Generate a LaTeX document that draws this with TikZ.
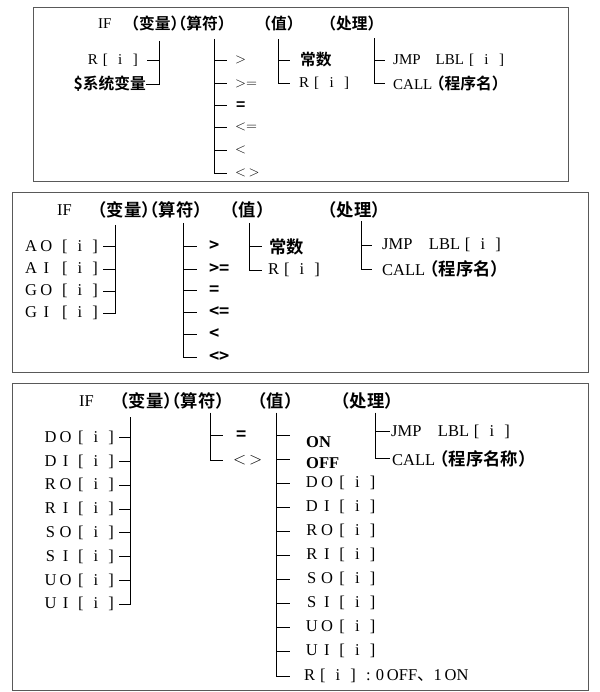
\documentclass[tikz,border=0pt]{standalone}
\usepackage{fontspec}
\setmainfont{Liberation Serif}
\newfontfamily\cjk{Noto Sans CJK SC Bold}[Scale=1.05, RawFeature=+halt]
\newfontfamily\cjkr{Noto Sans CJK SC}
\usetikzlibrary{positioning}

\def\fwd{1em}
\newcommand\fwbox[1]{\makebox[\fwd]{#1}}
\newcommand\idx{\fwbox{[}\fwbox{i}\fwbox{]}}
\newcommand\reg[2]{\fwbox{#1}\fwbox{#2}\idx}

\begin{document}
\begin{tikzpicture}[x=1pt, y=-1pt,
    frame/.style={draw=black!65, line width=1pt},
    bus/.style={line width=0.9pt},
    hdr/.style={anchor=west, inner sep=0pt, font=\cjk},
    itm/.style={anchor=west, inner sep=0pt},
    var/.style={anchor=east, inner sep=0pt}
]
\useasboundingbox (0,0) rectangle (599,692);

% first table
\begin{scope}
\fontsize{15}{18}\selectfont
\draw[frame] (33,8) rectangle (568,182);
\node[itm] (ifA) at (98,24) {IF};
\node[hdr] (varA) at (131,24) {（变量）（算符）};
\node[hdr] (valA) at (263,24) {（值）};
\node[hdr] (actA) at (328,24) {（处理）};

\node[var] (rA) at (143,60) {R\idx};
\node[var, font=\cjk] (sysA) at (146,84) {\$系统变量};
\coordinate (vbA) at (159,41);
\draw[bus] (vbA) |- (sysA.east);
\draw[bus] ([xshift=4pt]rA.east) -- (vbA |- rA.east);

\node[itm] (gtA) at (235,60) {$>$};
\node[itm] (geA) at (235,83.5) {$>=$};
\node[itm, font=\cjk] (eqA) at (236,105.7) {=};
\node[itm] (leA) at (235,127.4) {$<=$};
\node[itm] (ltA) at (235,150) {$<$};
\node[itm] (neA) at (235,173) {$<\,>$};
\coordinate (obA) at (214.5,39);
\draw[bus] (obA) |- ([xshift=-8.5pt]neA.west);
\draw[bus] (obA |- gtA.west) -- ([xshift=-8.5pt]gtA.west);
\draw[bus] (obA |- geA.west) -- ([xshift=-8.5pt]geA.west);
\draw[bus] (obA |- eqA.west) -- ([xshift=-9.5pt]eqA.west);
\draw[bus] (obA |- leA.west) -- ([xshift=-8.5pt]leA.west);
\draw[bus] (obA |- ltA.west) -- ([xshift=-8.5pt]ltA.west);

\node[itm, font=\cjk] (cstA) at (300,60) {常数};
\node[itm] (rvA) at (299,83.5) {R\idx};
\coordinate (wbA) at (278,39.5);
\draw[bus] (wbA) |- ([xshift=-9pt]rvA.west);
\draw[bus] (wbA |- cstA.west) -- ([xshift=-10pt]cstA.west);

\node[itm] (jmpA) at (393,60) {JMP\hspace{1em}LBL\idx};
\node[itm] (callA) at (393,83.5) {CALL\hspace{0.3em}{\cjk （程序名）}};
\coordinate (pbA) at (374,38.5);
\draw[bus] (pbA) |- ([xshift=-8.5pt]callA.west);
\draw[bus] (pbA |- jmpA.west) -- ([xshift=-8.5pt]jmpA.west);
\end{scope}

% second table
\begin{scope}
\fontsize{16.5}{20}\selectfont
\def\fwd{0.92em}
\draw[frame] (12,193) rectangle (588,372);
\node[itm] (ifB) at (57,210) {IF};
\node[hdr] (varB) at (98,210) {（变量）（算符）};
\node[hdr] (valB) at (230,210) {（值）};
\node[hdr] (actB) at (328,210) {（处理）};

\node[var] (aoB) at (103,246.5) {\fwbox{A}\fwbox{O}\hspace{0.2em}\idx};
\node[var] (aiB) at (103,269) {\fwbox{A}\fwbox{I}\hspace{0.2em}\idx};
\node[var] (goB) at (103,291) {\fwbox{G}\fwbox{O}\hspace{0.2em}\idx};
\node[var] (giB) at (103,313) {\fwbox{G}\fwbox{I}\hspace{0.2em}\idx};
\coordinate (vbB) at (115,225);
\draw[bus] (vbB) |- (giB.east);
\draw[bus] (aoB.east) -- (vbB |- aoB.east);
\draw[bus] (aiB.east) -- (vbB |- aiB.east);
\draw[bus] (goB.east) -- (vbB |- goB.east);

\node[itm, font=\cjk] (gtB) at (209,246.5) {>};
\node[itm, font=\cjk] (geB) at (209,269) {>=};
\node[itm, font=\cjk] (eqB) at (209,290.5) {=};
\node[itm, font=\cjk] (leB) at (209,312.4) {<=};
\node[itm, font=\cjk] (ltB) at (209,334) {<};
\node[itm, font=\cjk] (neB) at (209,357) {<>};
\coordinate (obB) at (183.6,223);
\draw[bus] (obB) |- ([xshift=-12.3pt]neB.west);
\draw[bus] (obB |- gtB.west) -- ([xshift=-12.3pt]gtB.west);
\draw[bus] (obB |- geB.west) -- ([xshift=-12.3pt]geB.west);
\draw[bus] (obB |- eqB.west) -- ([xshift=-12.3pt]eqB.west);
\draw[bus] (obB |- leB.west) -- ([xshift=-12.3pt]leB.west);
\draw[bus] (obB |- ltB.west) -- ([xshift=-12.3pt]ltB.west);

\node[itm, font=\cjk] (cstB) at (269,246.5) {常数};
\node[itm] (rvB) at (268,270) {R\idx};
\coordinate (wbB) at (249,223);
\draw[bus] (wbB) |- ([xshift=-6pt]rvB.west);
\draw[bus] (wbB |- cstB.west) -- ([xshift=-7pt]cstB.west);

\node[itm] (jmpB) at (382,245) {JMP\hspace{1em}LBL\idx};
\node[itm] (callB) at (382,269) {CALL\hspace{0.3em}{\cjk （程序名）}};
\coordinate (pbB) at (361,221);
\draw[bus] (pbB) |- ([xshift=-10pt]callB.west);
\draw[bus] (pbB |- jmpB.west) -- ([xshift=-10pt]jmpB.west);
\end{scope}

% third table
\begin{scope}
\fontsize{16.5}{20}\selectfont
\def\fwd{0.92em}
\draw[frame] (12,383) rectangle (588,690);
\node[itm] (ifC) at (79,401) {IF};
\node[hdr] (varC) at (120,401) {（变量）（算符）};
\node[hdr] (valC) at (258,401) {（值）};
\node[hdr] (actC) at (341,401) {（处理）};

\node[var] (doC) at (119,437.6) {\reg DO};
\node[var] (diC) at (119,461.4) {\reg DI};
\node[var] (roC) at (119,485.2) {\reg RO};
\node[var] (riC) at (119,509) {\reg RI};
\node[var] (soC) at (119,532.8) {\reg SO};
\node[var] (siC) at (119,556.6) {\reg SI};
\node[var] (uoC) at (119,580.4) {\reg UO};
\node[var] (uiC) at (119,604.2) {\reg UI};
\coordinate (vbC) at (130.5,417);
\draw[bus] (vbC) |- (uiC.east);
\draw[bus] (doC.east) -- (vbC |- doC.east);
\draw[bus] (diC.east) -- (vbC |- diC.east);
\draw[bus] (roC.east) -- (vbC |- roC.east);
\draw[bus] (riC.east) -- (vbC |- riC.east);
\draw[bus] (soC.east) -- (vbC |- soC.east);
\draw[bus] (siC.east) -- (vbC |- siC.east);
\draw[bus] (uoC.east) -- (vbC |- uoC.east);

\node[itm, font=\cjk] (eqC) at (236,435.5) {=};
\node[itm] (neC) at (233,460) {$<\,>$};
\coordinate (obC) at (210,412.7);
\draw[bus] (obC) |- ([xshift=-10pt]neC.west);
\draw[bus] (obC |- eqC.west) -- ([xshift=-13pt]eqC.west);

\node[itm] (onC) at (306,441.7) {\textbf{ON}};
\node[itm] (offC) at (306,463) {\textbf{OFF}};
\node[itm] (dovC) at (304,483.3) {\reg DO};
\node[itm] (divC) at (304,507.3) {\reg DI};
\node[itm] (rovC) at (304,531.3) {\reg RO};
\node[itm] (rivC) at (304,555.3) {\reg RI};
\node[itm] (sovC) at (304,579.3) {\reg SO};
\node[itm] (sivC) at (304,603.3) {\reg SI};
\node[itm] (uovC) at (304,627.3) {\reg UO};
\node[itm] (uivC) at (304,651.3) {\reg UI};
\node[itm] (rvC) at (304,676.3) {R\idx\fwbox{:}0\,OFF{\cjkr 、}1\,ON};
\coordinate (wbC) at (276,412.7);
\draw[bus] (wbC) |- ([xshift=-14pt]rvC.west);
\draw[bus] (wbC |- onC.west) ++(0,-6.7) -- ++(14,0);
\draw[bus] (wbC |- offC.west) ++(0,-3.3) -- ++(14,0);
\draw[bus] (wbC |- dovC.west) -- ([xshift=-14pt]dovC.west);
\draw[bus] (wbC |- divC.west) -- ([xshift=-14pt]divC.west);
\draw[bus] (wbC |- rovC.west) -- ([xshift=-14pt]rovC.west);
\draw[bus] (wbC |- rivC.west) -- ([xshift=-14pt]rivC.west);
\draw[bus] (wbC |- sovC.west) -- ([xshift=-14pt]sovC.west);
\draw[bus] (wbC |- sivC.west) -- ([xshift=-14pt]sivC.west);
\draw[bus] (wbC |- uovC.west) -- ([xshift=-14pt]uovC.west);
\draw[bus] (wbC |- uivC.west) -- ([xshift=-14pt]uivC.west);

\node[itm] (jmpC) at (391,431.4) {JMP\hspace{1em}LBL\idx};
\node[itm] (callC) at (392,458.7) {CALL\hspace{0.3em}{\cjk （程序名称）}};
\coordinate (pbC) at (375,412.7);
\draw[bus] (pbC) |- ([xshift=-2pt]callC.west);
\draw[bus] (pbC |- jmpC.west) -- ([xshift=-1pt]jmpC.west);
\end{scope}
\end{tikzpicture}
\end{document}
